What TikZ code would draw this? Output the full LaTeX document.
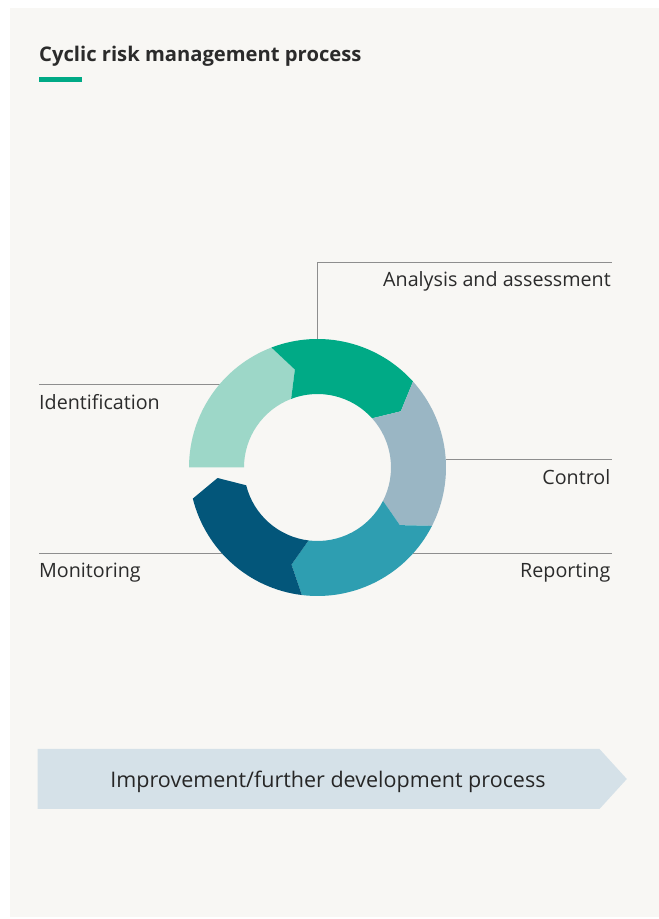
\documentclass[tikz,border=0pt]{standalone}
\usepackage{fontspec}
\setmainfont{Open Sans}
\usepackage{tikz}
\usetikzlibrary{calc}
\usepackage{xcolor}

\definecolor{panel}{HTML}{F8F7F4}
\definecolor{idcol}{HTML}{9DD7C8}
\definecolor{anacol}{HTML}{00AA86}
\definecolor{ctrlcol}{HTML}{9AB6C4}
\definecolor{repcol}{HTML}{2E9EB1}
\definecolor{moncol}{HTML}{03567A}
\definecolor{bannercol}{HTML}{D5E1E8}
\definecolor{leadcol}{HTML}{8E8E8E}
\definecolor{txtcol}{HTML}{2B2B2B}

\begin{document}
\begin{tikzpicture}[x=1pt,y=1pt,
    leader/.style={draw=leadcol,line width=1pt},
    lbl/.style={inner sep=0pt,text=txtcol,font=\fontsize{19.7}{22}\selectfont}]
	\useasboundingbox (0,0) rectangle (659,919);
	\fill[white] (0,0) rectangle (659,919);
	\fill[panel] (10,2) rectangle (659,911);

	% title with green bar
	\node[anchor=base west,inner sep=0pt,text=txtcol,font=\fontsize{20.2}{24}\bfseries] (title) at (39,857.3) {Cyclic risk management process};
	\fill[anacol] (39,836.5) rectangle (82,841.5);

	% centre of the cycle
	\coordinate (c) at (317.5,451.5);

	% draw the leader lines first, the ring goes on top
	\coordinate (a1) at (317.5,580);
	\coordinate (a2) at (317.5,656.3);
	\coordinate (a3) at (611.7,656.3);
	\coordinate (i1) at (219.6,534.7);
	\coordinate (i2) at (38.5,534.7);
	\coordinate (k1) at (445.7,459.7);
	\coordinate (k2) at (611.7,459.7);
	\coordinate (r1) at (413.2,365.7);
	\coordinate (r2) at (611.7,365.7);
	\coordinate (m1) at (221.8,365.7);
	\coordinate (m2) at (38.5,365.7);
	\draw[leader] (a1) -- (a2) -- (a3);
	\draw[leader] (i1) -- (i2);
	\draw[leader] (k1) -- (k2);
	\draw[leader] (r1) -- (r2);
	\draw[leader] (m1) -- (m2);

	% labels
	\node[lbl,anchor=base east] (ana) at (611,632.3) {Analysis and assessment};
	\node[lbl,anchor=base west] (ident) at (39,509.7) {Identification};
	\node[lbl,anchor=base east] (ctrl) at (610.5,434.7) {Control};
	\node[lbl,anchor=base east] (rep) at (610.5,341.7) {Reporting};
	\node[lbl,anchor=base west] (mon) at (39,341.7) {Monitoring};

	% ring: first piece has a flat start
	\fill[idcol] ($(c)+(180:128.5)$) arc[start angle=180,end angle=111,radius=128.5]
		-- ($(c)+(103:100.5)$) -- ($(c)+(111:73.5)$)
		arc[start angle=111,end angle=180,radius=73.5] -- cycle;
	\foreach \a/\b/\col in {111/42/anacol,42/-27/ctrlcol,-27/-97/repcol,-97/-166/moncol}
	{
		\pgfmathsetmacro{\at}{\a-8}
		\pgfmathsetmacro{\bt}{\b-8}
		\fill[\col] ($(c)+(\a:128.5)$) arc[start angle=\a,end angle=\b,radius=128.5]
			-- ($(c)+(\bt:100.5)$) -- ($(c)+(\b:73.5)$)
			arc[start angle=\b,end angle=\a,radius=73.5]
			-- ($(c)+(\at:100.5)$) -- cycle;
	}

	% improvement banner
	\fill[bannercol] (37.7,110) -- (599.5,110) -- (626.8,140) -- (599.5,170) -- (37.7,170) -- cycle;
	\node[lbl,anchor=base,font=\fontsize{21.5}{24}\selectfont,text=black!85] (impr) at (328,131.7) {Improvement/further development process};
\end{tikzpicture}
\end{document}
